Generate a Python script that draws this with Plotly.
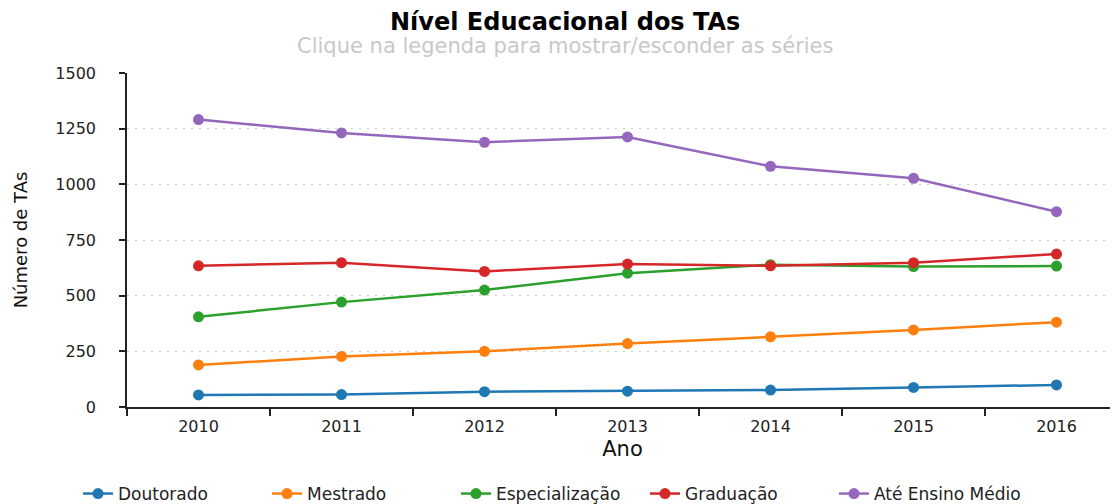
import plotly.graph_objects as go

anos = ["2010", "2011", "2012", "2013", "2014", "2015", "2016"]
doutorado = [54, 56, 69, 71, 76, 88, 99]
mestrado = [189, 227, 250, 285, 315, 346, 381]
especializacao = [405, 471, 525, 601, 639, 631, 633]
graduacao = [634, 648, 609, 642, 634, 648, 687]
ate_ensino_medio = [1291, 1231, 1189, 1213, 1081, 1027, 877]

series = [
    ("Doutorado", doutorado, "#1f77b4"),
    ("Mestrado", mestrado, "#ff7f0e"),
    ("Especialização", especializacao, "#2ca02c"),
    ("Graduação", graduacao, "#d62728"),
    ("Até Ensino Médio", ate_ensino_medio, "#9467bd"),
]

FONT = "DejaVu Sans"

fig = go.Figure()
for nome, vals, cor in series:
    fig.add_trace(go.Scatter(
        x=anos, y=vals, name=nome, mode="lines+markers",
        line=dict(color=cor, width=2.5),
        marker=dict(color=cor, size=11),
    ))

# page body has an 8px margin: figure is placed at (8, 8) in the window
OFF = 8
W, H = 1110, 496
L, R, T, B = 119, 0, 65, 97
pw = W - L - R
ph = H - T - B

def px_x(x):
    return (x - OFF - L) / pw

def px_y(y):
    return (H - B - (y - OFF)) / ph

fig.update_layout(
    width=W, height=H,
    margin=dict(l=L, r=R, t=T, b=B, pad=0, autoexpand=False),
    paper_bgcolor="white", plot_bgcolor="white",
    font=dict(family=FONT, color="#222"),
    showlegend=True,
    legend=dict(
        orientation="h", x=px_x(78), xanchor="left",
        y=px_y(494), yanchor="middle",
        font=dict(family=FONT, size=17, color="#222"),
        itemwidth=30, entrywidth=144, entrywidthmode="pixels",
    ),
    annotations=[
        dict(text="<b>Nível Educacional dos TAs</b>", xref="paper", yref="paper",
             x=px_x(565), y=px_y(22), xanchor="center", yanchor="middle",
             showarrow=False, font=dict(family=FONT, size=24, color="#000")),
        dict(text="Clique na legenda para mostrar/esconder as séries", xref="paper", yref="paper",
             x=px_x(565), y=px_y(46), xanchor="center", yanchor="middle",
             showarrow=False, font=dict(family=FONT, size=21, color="#c8c8c8")),
    ],
)

fig.update_xaxes(
    type="category", range=[-0.5, 6.43], automargin=False,
    tickson="boundaries", ticks="outside", ticklen=7, tickcolor="#222", tickwidth=1.5,
    showline=True, linecolor="#222", linewidth=1.5,
    showgrid=False, zeroline=False,
    tickfont=dict(family=FONT, size=16, color="#222"),
    ticklabelstandoff=4,
    title=dict(text="Ano", font=dict(family=FONT, size=21, color="#111"), standoff=6),
)

fig.update_yaxes(
    range=[0, 1500], tickvals=[0, 250, 500, 750, 1000, 1250, 1500], automargin=False,
    ticks="outside", ticklen=6, tickcolor="#222", tickwidth=1.5,
    showline=True, linecolor="#222", linewidth=1.5,
    showgrid=True, gridcolor="#cccccc", griddash="2px,6px", gridwidth=1.2,
    zeroline=False,
    tickfont=dict(family=FONT, size=16, color="#222"),
    ticklabelstandoff=20,
    title=dict(text="Número de TAs", font=dict(family=FONT, size=18, color="#111"), standoff=23),
)

fig.write_html("out.html")
